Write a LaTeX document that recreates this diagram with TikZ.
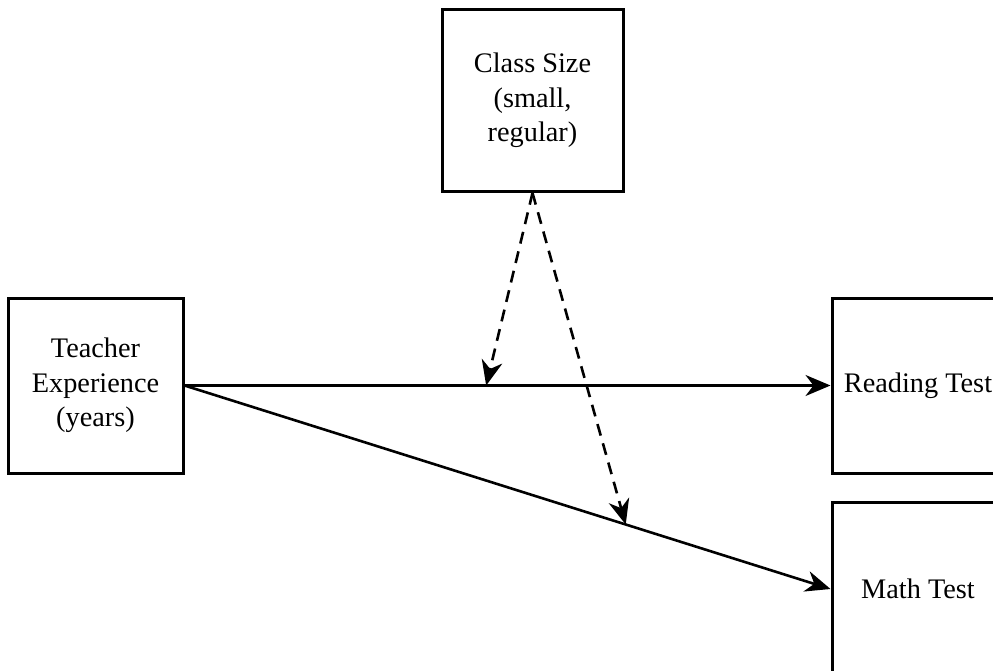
\documentclass[tikz,border=0pt]{standalone}
\usepackage{fontspec}
\setmainfont{Liberation Serif}
\usetikzlibrary{arrows.meta,calc}
\tikzset{
  box/.style={draw=black, line width=3pt, rectangle, inner sep=0pt, align=center,
    font=\fontsize{28.3}{34.5}\selectfont},
  link/.style={line width=2.6pt, -{Stealth[length=25pt,width=21pt,inset=8pt]}},
  modlink/.style={link, dash pattern=on 12pt off 8pt}
}
\begin{document}
\begin{tikzpicture}[x=1pt,y=-1pt]
\useasboundingbox (0,0) rectangle (993,671);
\clip (0,0) rectangle (993,671);
\node[box, minimum width=181pt, minimum height=182pt] (cls) at (532.5,100.5) {Class Size\\(small,\\regular)};
\node[box, minimum width=175pt, minimum height=175pt] (teach) at (95.5,385.5) {Teacher\\Experience\\(years)};
\node[box, minimum width=172pt, minimum height=175pt] (read) at (918,385.5) {Reading Test};
\node[box, minimum width=172pt, minimum height=174pt] (math) at (918,589) {Math Test};
\draw[link] (teach.east) -- (read.west);
\draw[link] (teach.east) -- (math.west);
\coordinate (m1) at ($(teach.east)!0.467!(read.west)$);
\coordinate (m2) at ($(teach.east)!0.683!(math.west)$);
\draw[modlink] (cls.south) -- (m1);
\draw[modlink] (cls.south) -- (m2);
\end{tikzpicture}
\end{document}
